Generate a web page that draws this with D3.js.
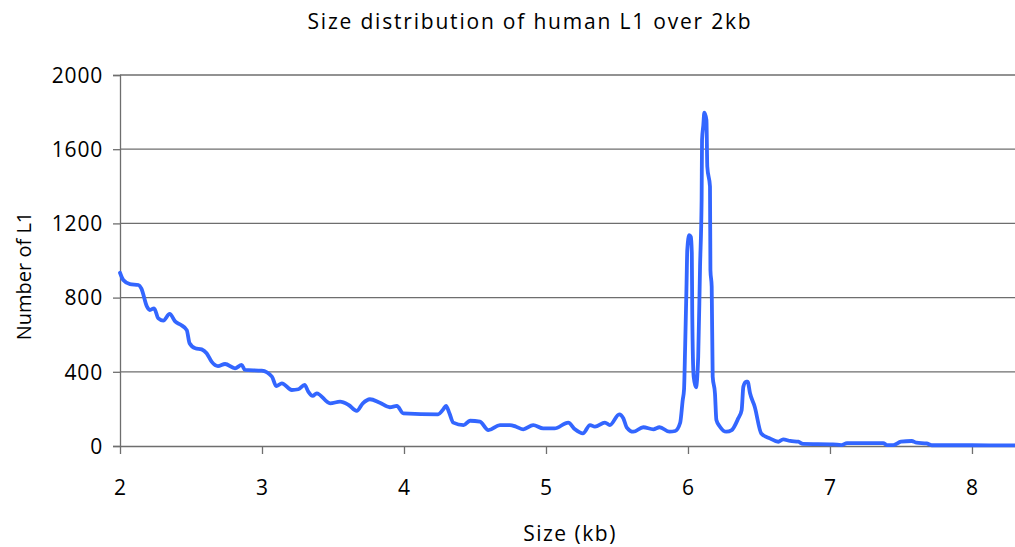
<!DOCTYPE html>
<html><head><meta charset="utf-8">
<script src="https://cdn.jsdelivr.net/npm/d3@7"></script>
<style>body{margin:0;background:#fff}text{font-family:"Open Sans",Carlito,"Liberation Sans",sans-serif;fill:#000}</style>
</head><body><svg id="c" width="1015" height="547"></svg>
<script>
const title = "Size distribution of human L1 over 2kb";
const xTitle = "Size (kb)";
const yTitle = "Number of L1";
const xTicks = [2,3,4,5,6,7,8];
const yTicks = [0,400,800,1200,1600,2000];
const sizes = [2.0,2.023,2.07,2.13,2.15,2.19,2.21,2.24,2.27,2.305,2.35,2.39,2.43,2.47,2.49,2.53,2.575,2.61,2.645,2.69,2.74,2.81,2.857,2.88,2.998,3.07,3.10,3.14,3.21,3.256,3.30,3.326,3.357,3.385,3.48,3.55,3.61,3.667,3.71,3.76,3.83,3.90,3.95,3.995,4.24,4.277,4.296,4.32,4.347,4.42,4.465,4.535,4.594,4.676,4.746,4.79,4.84,4.91,4.98,5.06,5.157,5.204,5.26,5.31,5.345,5.415,5.45,5.516,5.545,5.568,5.615,5.685,5.756,5.80,5.87,5.91,5.945,5.963,5.972,5.98,5.99,5.995,6.009,6.02,6.027,6.03,6.04,6.056,6.072,6.085,6.096,6.099,6.108,6.115,6.13,6.136,6.155,6.158,6.167,6.174,6.19,6.2,6.225,6.27,6.308,6.354,6.378,6.39,6.41,6.42,6.437,6.47,6.516,6.577,6.636,6.67,6.72,6.777,6.81,7.02,7.08,7.12,7.375,7.40,7.446,7.50,7.575,7.61,7.68,7.716,8.0,8.303];
const counts = [934,895,873,868,850,751,733,742,688,676,712,670,652,625,554,527,521,500,455,431,442,419,437,410,406,374,323,338,302,306,329,293,270,284,230,239,221,189,230,252,233,209,216,176,171,198,216,176,126,113,136,131,86,113,113,104,90,113,95,95,126,90,68,113,104,126,113,171,149,101,77,101,90,101,77,81,125,248,302,535,877,1057,1137,1128,1039,715,374,316,481,967,1326,1650,1730,1797,1757,1506,1398,949,859,374,284,140,104,77,86,149,194,320,347,347,284,212,68,41,23,36,27,23,11,9,5,16,16,5,5,23,27,18,14,4,4,3];

const svg = d3.select("#c");
const x = d3.scaleLinear().domain([2, 8.303]).range([120, 1015]);
const y = d3.scaleLinear().domain([0, 2000]).range([446, 75]);

svg.append("g").selectAll("line").data(yTicks.filter(d=>d>0)).join("line")
  .attr("x1",120).attr("x2",1015).attr("y1",d=>y(d)).attr("y2",d=>y(d))
  .attr("stroke","#6e6e6e").attr("stroke-width",1.3);

const yAxis = svg.append("g").attr("transform","translate(120,0)")
  .call(d3.axisLeft(y).tickValues(yTicks).tickSize(7).tickPadding(10).tickFormat(d3.format("d")));
const xAxis = svg.append("g").attr("transform","translate(0,446)")
  .call(d3.axisBottom(x).tickValues(xTicks).tickSize(8).tickPadding(26).tickFormat(d3.format("d")));
[yAxis,xAxis].forEach(g=>{
  g.select(".domain").attr("stroke","#6e6e6e").attr("stroke-width",1.3);
  g.selectAll(".tick line").attr("stroke","#6e6e6e").attr("stroke-width",1.3);
  g.selectAll("text").attr("font-size",21).attr("font-family","'Open Sans',sans-serif").attr("fill","#000").attr("letter-spacing",0.8);
});
yAxis.selectAll("text").attr("dy","0.35em");
xAxis.select(".domain").attr("d","M120.5,0.5H1015");

const line = d3.line().x((d,i)=>x(sizes[i])).y(d=>y(d)).curve(d3.curveMonotoneX);
svg.append("path").datum(counts).attr("d",line).attr("fill","none")
  .attr("stroke","#3366ff").attr("stroke-width",3.8).attr("stroke-linejoin","round").attr("stroke-linecap","round");

svg.append("text").attr("x",530).attr("y",29).attr("text-anchor","middle").attr("font-size",21).attr("letter-spacing",1.8).text(title);
svg.append("text").attr("x",570).attr("y",541).attr("text-anchor","middle").attr("font-size",21).attr("letter-spacing",1.5).text(xTitle);
svg.append("text").attr("transform","translate(31,276) rotate(-90)").attr("text-anchor","middle").attr("font-size",20).text(yTitle);
</script></body></html>
